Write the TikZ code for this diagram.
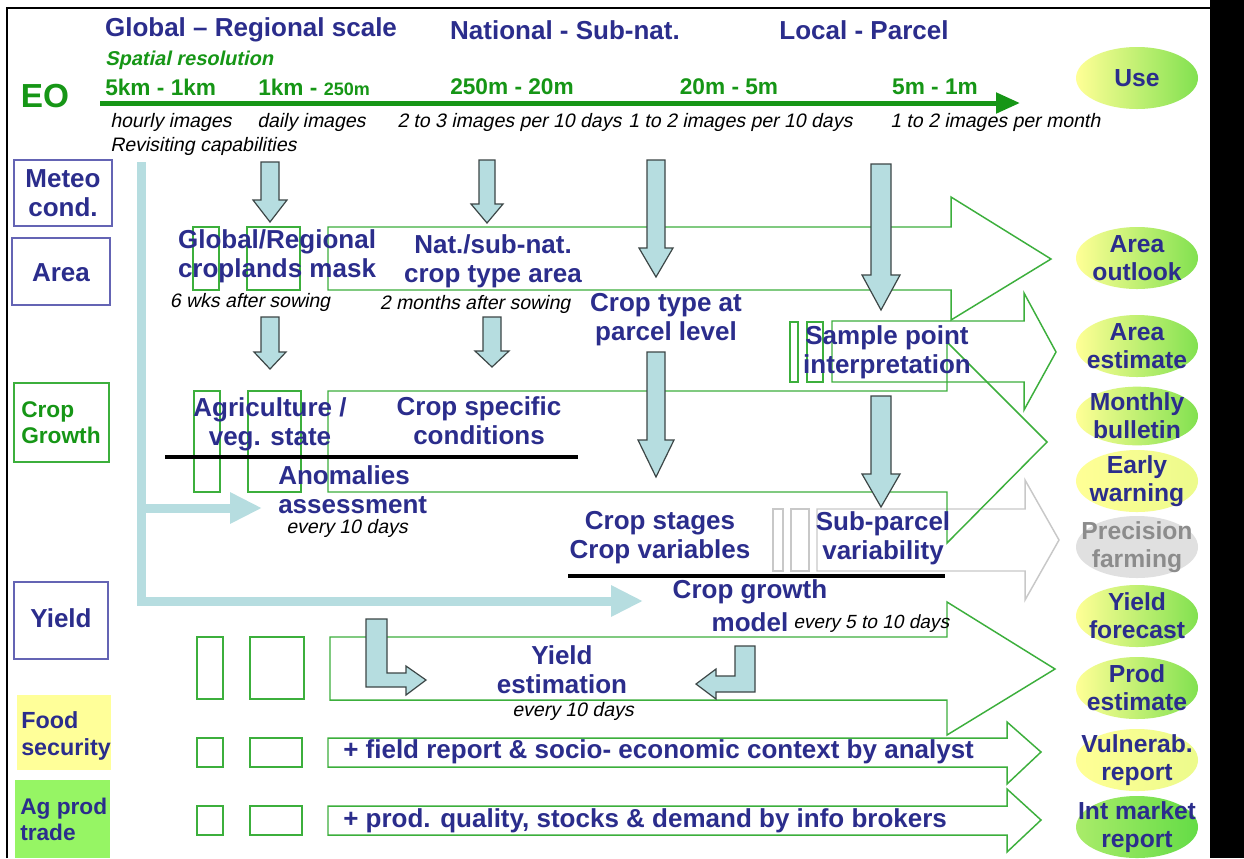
\documentclass[tikz,border=0pt]{standalone}
\usepackage{fontspec}
\setmainfont{Liberation Sans}
\newfontfamily\slfam{Liberation Sans}[FakeSlant=0.21]
\usetikzlibrary{arrows.meta,shapes.geometric}
\definecolor{navy}{RGB}{43,45,140}
\definecolor{eogreen}{RGB}{22,150,22}
\definecolor{boxgreen}{RGB}{60,175,60}
\definecolor{lblue}{RGB}{182,221,224}
\definecolor{arrline}{RGB}{60,70,70}
\definecolor{lftblue}{RGB}{100,100,180}
\definecolor{pgray}{RGB}{200,200,200}
\definecolor{ptext}{RGB}{140,140,140}
\definecolor{ylw}{RGB}{255,255,150}
\definecolor{grn}{RGB}{130,225,80}
\definecolor{intgrn}{RGB}{100,220,70}
\definecolor{foodylw}{RGB}{255,255,153}
\definecolor{aggreen}{RGB}{150,245,100}
\newcommand\fatdn[6]{\draw[barr] ({#1-#5},#2) -- ({#1+#5},#2) -- ({#1+#5},#3) -- ({#1+#6},#3) -- (#1,#4) -- ({#1-#6},#3) -- ({#1-#5},#3) -- cycle;}
\begin{document}
\begin{tikzpicture}[x=0.75pt,y=-0.75pt,
 lbl/.style={font=\fontsize{19.5}{21.75}\selectfont\bfseries,text=navy,align=center,inner sep=0pt},
 ulbl/.style={font=\fontsize{18.5}{21}\selectfont\bfseries,text=navy,align=center,inner sep=0pt},
 itl/.style={font=\fontsize{14.6}{17}\selectfont\slfam,inner sep=0pt},
 res/.style={font=\fontsize{17}{19}\selectfont\bfseries,text=eogreen,inner sep=0pt},
 gbox/.style={draw=boxgreen,line width=1.1pt},
 pbox/.style={draw=pgray,line width=1.1pt},
 barr/.style={draw=arrline,fill=lblue,line width=0.9pt},
 useell/.style={ellipse,minimum width=91.5pt,minimum height=46.5pt,inner sep=0pt,left color=ylw,right color=grn},
 lbline/.style={draw=lblue,line width=6.75pt,line join=miter,-{Triangle[width=22pt,length=24pt]}},
 sidebox/.style={draw=lftblue,line width=1.1pt},
 blk/.style={black,line width=2.4pt}]
\useasboundingbox (0,0) rectangle (1244,858);
\fill[white] (0,0) rectangle (1244,858);
% frame
\fill[black] (1210,0) rectangle (1244,858);
\draw[line width=1.3pt] (7,858) -- (7,8) -- (1210,8);

% header
\node[lbl] (hglob) at (251,30) {Global – Regional scale};
\node[lbl] (hnat) at (565,30) {National - Sub-nat.};
\node[lbl] (hloc) at (864,30) {Local - Parcel};
\node[font=\fontsize{15}{17}\selectfont\slfam\bfseries,text=eogreen,inner sep=0pt,anchor=west] (spat) at (105,60) {Spatial resolution};
\node[font=\fontsize{25}{28}\selectfont\bfseries,text=eogreen,inner sep=0pt] (eo) at (45,96) {EO};
\node[res,anchor=west] (r1) at (105,87) {5km - 1km};
\node[res,anchor=west] (r2) at (258,87) {1km - {\fontsize{13.5}{15}\selectfont 250m}};
\node[res] (r3) at (512,87) {250m - 20m};
\node[res] (r4) at (729,87) {20m - 5m};
\node[res] (r5) at (935,87) {5m - 1m};
\coordinate (eoL) at (100,103);
\coordinate (eoR) at (1020,103);
\draw[draw=eogreen,line width=3.75pt,-{Triangle[width=15pt,length=18pt]}] (eoL) -- (eoR);
\node[itl,anchor=west] (f1) at (110,122) {hourly images};
\node[itl,anchor=west] (f2) at (257,122) {daily images};
\node[itl,anchor=west] (f3) at (397,122) {2 to 3 images per 10 days};
\node[itl,anchor=west] (f4) at (628,122) {1 to 2 images per 10 days};
\node[itl,anchor=west] (f5) at (890,122) {1 to 2 images per month};
\node[itl,anchor=west] (rev) at (110,146) {Revisiting capabilities};

% left column
\draw[sidebox] (14,160) rectangle (112,226);
\node[lbl] (meteo) at (63,193) {Meteo\\cond.};
\draw[sidebox] (12,238) rectangle (110,305);
\node[lbl] (area) at (61,273) {Area};
\draw[gbox] (14,383) rectangle (109,462);
\node[font=\fontsize{17}{19.5}\selectfont\bfseries,text=eogreen,align=left,inner sep=0pt,anchor=west] (cropg) at (21,423) {Crop\\Growth};
\draw[sidebox] (14,582) rectangle (108,659);
\node[lbl] (yield) at (61,618) {Yield};
\fill[foodylw] (17,695) rectangle (111,770);
\node[font=\fontsize{17.5}{20}\selectfont\bfseries,text=navy,align=left,inner sep=0pt,anchor=west] (food) at (21,736) {Food\\security};
\fill[aggreen] (15,780) rectangle (110,858);
\node[font=\fontsize{17}{19.5}\selectfont\bfseries,text=navy,align=left,inner sep=0pt,anchor=west] (agp) at (20,819) {Ag prod\\trade};

% light blue connector
\coordinate (lbTop) at (141,162);
\coordinate (lbMid) at (141,508);
\coordinate (lbBot) at (141,601);
\coordinate (anomTip) at (262,508);
\coordinate (cgmTip) at (643,601);
\draw[lbline] (lbTop) -- (lbBot) -- (cgmTip);
\draw[lbline] (lbMid) -- (anomTip);

% gray precision arrow
\draw[pbox] (773,509) rectangle (783,571);
\draw[pbox] (791,509) rectangle (809,571);
\draw[pbox] (817,509) -- (1025,509) -- (1025,480) -- (1059,540) -- (1025,600) -- (1025,571) -- (817,571) -- cycle;

% green block arrows
\draw[gbox] (193,227) rectangle (219,290);
\draw[gbox] (247,227) rectangle (300,290);
\draw[gbox] (328,227) -- (951,227) -- (951,197) -- (1051,259) -- (951,320) -- (951,290) -- (328,290) -- cycle;

\draw[gbox] (194,391) rectangle (220,492);
\draw[gbox] (248,391) rectangle (301,492);
\draw[gbox] (328,391) -- (947,391) -- (947,342) -- (1047,442) -- (947,543) -- (947,492) -- (328,492) -- cycle;

\draw[gbox] (790,322) rectangle (798,382);
\draw[gbox] (807,322) rectangle (823,382);
\draw[gbox] (832,321) -- (1024,321) -- (1024,293) -- (1056,352) -- (1024,410) -- (1024,382) -- (832,382) -- cycle;

\draw[gbox] (197,637) rectangle (223,699);
\draw[gbox] (250,637) rectangle (304,699);
\draw[gbox] (330,637) -- (947,637) -- (947,602) -- (1055,669) -- (947,735) -- (947,700) -- (330,700) -- cycle;

\draw[gbox] (197,738) rectangle (223,767);
\draw[gbox] (250,738) rectangle (302,767);
\draw[gbox] (328,738) -- (1007,738) -- (1007,722) -- (1041,752) -- (1007,784) -- (1007,767) -- (328,767) -- cycle;

\draw[gbox] (197,806) rectangle (223,835);
\draw[gbox] (250,806) rectangle (302,835);
\draw[gbox] (328,806) -- (1007,806) -- (1007,789) -- (1041,820) -- (1007,852) -- (1007,835) -- (328,835) -- cycle;

% black separator lines
\coordinate (bl1a) at (165,457); \coordinate (bl1b) at (578,457);
\coordinate (bl2a) at (568,576); \coordinate (bl2b) at (945,576);
\draw[blk] (bl1a) -- (bl1b);
\draw[blk] (bl2a) -- (bl2b);

% fat down arrows
\fatdn{270}{162}{200}{222}{9}{17}
\fatdn{487}{160}{204}{223}{8}{16}
\fatdn{656}{160}{248}{277}{9}{17}
\fatdn{881}{164}{275}{310}{10}{19}
\fatdn{270}{317}{352}{369}{9}{16}
\fatdn{492}{317}{351}{367}{9}{17}
\fatdn{656}{352}{440}{477}{9}{18}
\fatdn{881}{396}{474}{507}{10}{19}

% L arrows
\draw[barr] (366,619) -- (387,619) -- (387,673) -- (406,673) -- (406,666) -- (426,680) -- (406,695) -- (406,687) -- (366,687) -- cycle;
\draw[barr] (755,646) -- (735,646) -- (735,676) -- (716,676) -- (716,669) -- (696,684) -- (716,699) -- (716,692) -- (755,692) -- cycle;

% middle texts
\node[lbl] (glob) at (277,256) {Global/Regional\\croplands mask};
\node[itl] (wks) at (250,302) {6 wks after sowing};
\node[lbl] (nat) at (493,261) {Nat./sub-nat.\\crop type area};
\node[itl] (months) at (475,304) {2 months after sowing};
\node[lbl] (ctype) at (666,320) {Crop type at\\parcel level};
\node[lbl] (sample) at (887,352) {Sample point\\interpretation};
\node[lbl] (agri) at (270,424) {Agriculture /\\veg. state};
\node[lbl] (cspec) at (479,421) {Crop specific\\conditions};
\node[lbl,align=left,anchor=west] (anom) at (278,490) {Anomalies\\assessment};
\node[itl] (ev1) at (347,528) {every 10 days};
\node[lbl] (cstage) at (660,538) {Crop stages\\Crop variables};
\node[lbl] (subp) at (883,538) {Sub-parcel\\variability};
\node[lbl] (cgrow) at (750,592) {Crop growth};
\node[lbl] (model) at (750,622) {model};
\node[itl,anchor=west,font=\fontsize{14.3}{17}\selectfont\slfam] (ev5) at (793,624) {every 5 to 10 days};
\node[lbl] (yest) at (562,670) {Yield\\estimation};
\node[itl] (ev2) at (573,711) {every 10 days};
\node[lbl,anchor=west] (field) at (343,752) {+ field report \& socio- economic context by analyst};
\node[lbl,anchor=west] (prodq) at (343,821) {+ prod. quality, stocks \& demand by info brokers};

% use ellipses
\node[useell] (e0) at (1137,78) {};
\node[ulbl] (t0) at (e0) {Use};
\node[useell] (e1) at (1137,258) {};
\node[ulbl] (t1) at (e1) {Area\\outlook};
\node[useell] (e2) at (1137,346) {};
\node[ulbl] (t2) at (e2) {Area\\estimate};
\node[useell,minimum height=44pt] (e3) at (1137,416) {};
\node[ulbl] (t3) at (e3) {Monthly\\bulletin};
\node[useell,right color=ylw!85!grn] (e4) at (1137,481) {};
\node[ulbl] (t4) at (e4) {Early\\warning};
\node[ellipse,minimum width=91.5pt,minimum height=46.5pt,inner sep=0pt,fill=black!12] (e5) at (1137,547) {};
\node[ulbl,text=ptext] (t5) at (e5) {Precision\\farming};
\node[useell] (e6) at (1137,616) {};
\node[ulbl] (t6) at (e6) {Yield\\forecast};
\node[useell] (e7) at (1137,688) {};
\node[ulbl] (t7) at (e7) {Prod\\estimate};
\node[useell,right color=ylw!85!grn] (e8) at (1137,760) {};
\node[ulbl] (t8) at (e8) {Vulnerab.\\report};
\node[useell,left color=ylw!45!intgrn,right color=intgrn] (e9) at (1137,827) {};
\node[ulbl] (t9) at (e9) {Int market\\report};
\end{tikzpicture}
\end{document}
